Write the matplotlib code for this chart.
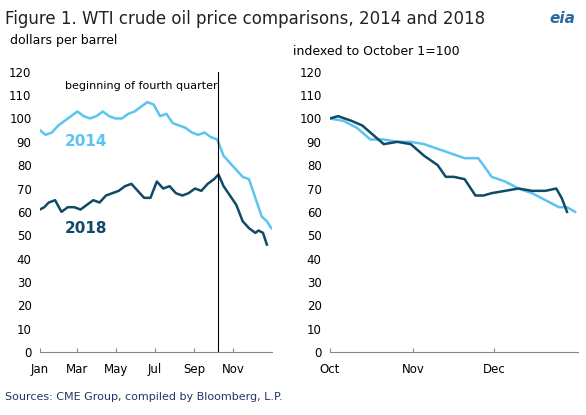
import matplotlib
matplotlib.use("Agg")
import matplotlib.pyplot as plt
import numpy as np

# Left panel: day of year and prices
day14 = [1,10,20,30,40,50,60,70,80,90,100,110,120,130,140,150,160,170,180,190,200,210,220,230,240,250,260,270,280,290,300,310,320,330,340,350,358,365]
p14 = [95,93,94,97,99,101,103,101,100,101,103,101,100,100,102,103,105,107,106,101,102,98,97,96,94,93,94,92,91,84,81,78,75,74,66,58,56,53]
day18 = [1,8,15,25,35,45,55,65,75,85,95,105,115,125,135,145,155,165,175,185,195,205,215,225,235,245,255,265,275,282,290,300,310,320,330,340,345,352,358]
p18 = [61,62,64,65,60,62,62,61,63,65,64,67,68,69,71,72,69,66,66,73,70,71,68,67,68,70,69,72,74,76,71,67,63,56,53,51,52,51,46]

# Right panel: days since Oct 1 and index
r14_x = [0,5,10,15,20,25,30,35,40,45,50,55,57,60,65,70,75,80,85,88,91]
r14_y = [100,99,96,91,91,90,90,89,87,85,83,83,80,75,73,70,68,65,62,62,60]
r18_x = [0,3,8,12,16,20,25,30,35,40,43,46,50,54,57,60,65,70,75,80,84,86,88]
r18_y = [100,101,99,97,93,89,90,89,84,80,75,75,74,67,67,68,69,70,69,69,70,66,60]

light = "#5bc4f1"
dark = "#0f4a66"

fig = plt.figure(figsize=(5.86, 4.15), dpi=100)
fig.text(0.008, 0.975, "Figure 1. WTI crude oil price comparisons, 2014 and 2018", fontsize=12, color="#222222", va="top")
fig.text(0.96, 0.945, "eia", fontsize=11, color="#2b6aa0", ha="center", style="italic", fontweight="bold")
fig.text(0.008, 0.035, "Sources: CME Group, compiled by Bloomberg, L.P.", fontsize=8, color="#1f3864")

ax1 = fig.add_axes([0.068, 0.152, 0.396, 0.675])
ax1.plot(day14, p14, color=light, lw=1.8)
ax1.plot(day18, p18, color=dark, lw=1.8)
ax1.set_xlim(1, 366)
ax1.set_ylim(0, 120)
ax1.set_yticks(range(0, 121, 10))
ax1.set_xticks([1, 60, 121, 182, 244, 305])
ax1.set_xticklabels(["Jan", "Mar", "May", "Jul", "Sep", "Nov"])
ax1.axvline(282, color="black", lw=0.8)
ax1.text(280, 114, "beginning of fourth quarter", fontsize=8, ha="right", va="center")
ax1.text(40, 88, "2014", color=light, fontsize=11, fontweight="bold")
ax1.text(40, 51, "2018", color=dark, fontsize=11, fontweight="bold")
ax1.text(-0.13, 1.1, "dollars per barrel", transform=ax1.transAxes, fontsize=9)

ax2 = fig.add_axes([0.563, 0.152, 0.423, 0.675])
ax2.plot(r14_x, r14_y, color=light, lw=1.8)
ax2.plot(r18_x, r18_y, color=dark, lw=1.8)
ax2.set_xlim(0, 92)
ax2.set_ylim(0, 120)
ax2.set_yticks(range(0, 121, 10))
ax2.set_xticks([0, 31, 61])
ax2.set_xticklabels(["Oct", "Nov", "Dec"])
ax2.text(-0.15, 1.06, "indexed to October 1=100", transform=ax2.transAxes, fontsize=9)

for ax in (ax1, ax2):
    for s in ("top", "right", "left"):
        ax.spines[s].set_visible(False)
    ax.spines["bottom"].set_color("#888888")
    ax.tick_params(axis="y", length=0, labelsize=8.5, pad=6)
    ax.tick_params(axis="x", labelsize=8.5, color="#888888", direction="in", length=3, pad=8)

fig.savefig("out.png", dpi=100)
